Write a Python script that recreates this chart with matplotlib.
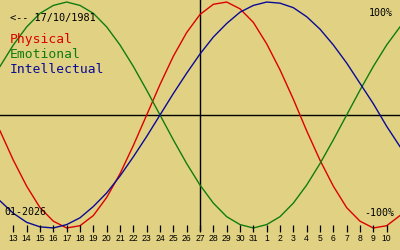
import matplotlib
matplotlib.use("Agg")
import matplotlib.pyplot as plt

# days shown on the axis: 12 Jan 2026 .. 11 Feb 2026
days = list(range(12, 32)) + list(range(1, 12))

# biorhythm values per day (-1 .. 1)
physical = [-0.14, -0.40, -0.63, -0.82, -0.94, -1.00, -0.98, -0.89, -0.73, -0.52, -0.27,
            0.00, 0.27, 0.52, 0.73, 0.89, 0.98, 1.00, 0.94, 0.82, 0.63, 0.40, 0.14,
            -0.14, -0.40, -0.63, -0.82, -0.94, -1.00, -0.98, -0.89]
emotional = [0.43, 0.62, 0.78, 0.90, 0.97, 1.00, 0.97, 0.90, 0.78, 0.62, 0.43, 0.22,
             0.00, -0.22, -0.43, -0.62, -0.78, -0.90, -0.97, -1.00, -0.97, -0.90, -0.78,
             -0.62, -0.43, -0.22, 0.00, 0.22, 0.43, 0.62, 0.78]
intellectual = [-0.76, -0.87, -0.95, -0.99, -1.00, -0.97, -0.91, -0.81, -0.69, -0.54, -0.37,
                -0.19, 0.00, 0.19, 0.37, 0.54, 0.69, 0.81, 0.91, 0.97, 1.00, 0.99, 0.95,
                0.87, 0.76, 0.62, 0.46, 0.28, 0.10, -0.10, -0.28]

birth_label = "<-- 17/10/1981"
month_label = "01-2026"
today_index = 15  # 27 Jan

series = [("Physical", physical, "#dc0000"),
          ("Emotional", emotional, "#107c10"),
          ("Intellectual", intellectual, "#0a0a96")]

BG = "#e1d283"
W, H = 400, 250

fig = plt.figure(figsize=(W / 100, H / 100), dpi=100, facecolor=BG)
ax = fig.add_axes([0, 0, 1, 1], facecolor=BG)
ax.set_xlim(0, len(days) - 1)
ax.set_ylim(-1.195, 1.018)
ax.axis("off")

x = list(range(len(days)))
ax.axhline(0, color="black", lw=1.0)
ax.vlines(today_index, -1.03, 1.1, color="black", lw=1.0)

for name, vals, color in series:
    ax.plot(x, vals, color=color, lw=1.0)

# day ticks and labels
tick_idx = x[1:-1]
ax.vlines(tick_idx, -1.035, -0.973, color="black", lw=0.9)
for i in tick_idx:
    ax.text(i, -1.115, str(days[i]), ha="center", va="baseline",
            fontsize=6.2, family="Liberation Sans", color="black")


def ftext(px, py, s, **kw):
    fig.text(px / W, 1 - py / H, s, family="DejaVu Sans Mono", va="baseline", **kw)


ftext(10, 21, birth_label, fontsize=7.4, color="black")
for j, (name, vals, color) in enumerate(series):
    ftext(10, 43 + 15 * j, name, fontsize=9.4, color=color)
ftext(393, 16, "100%", fontsize=7.2, color="black", ha="right")
ftext(394, 216, "-100%", fontsize=7.2, color="black", ha="right")
ftext(4, 215, month_label, fontsize=7.2, color="black")

fig.savefig("out.png", dpi=100, facecolor=BG)
